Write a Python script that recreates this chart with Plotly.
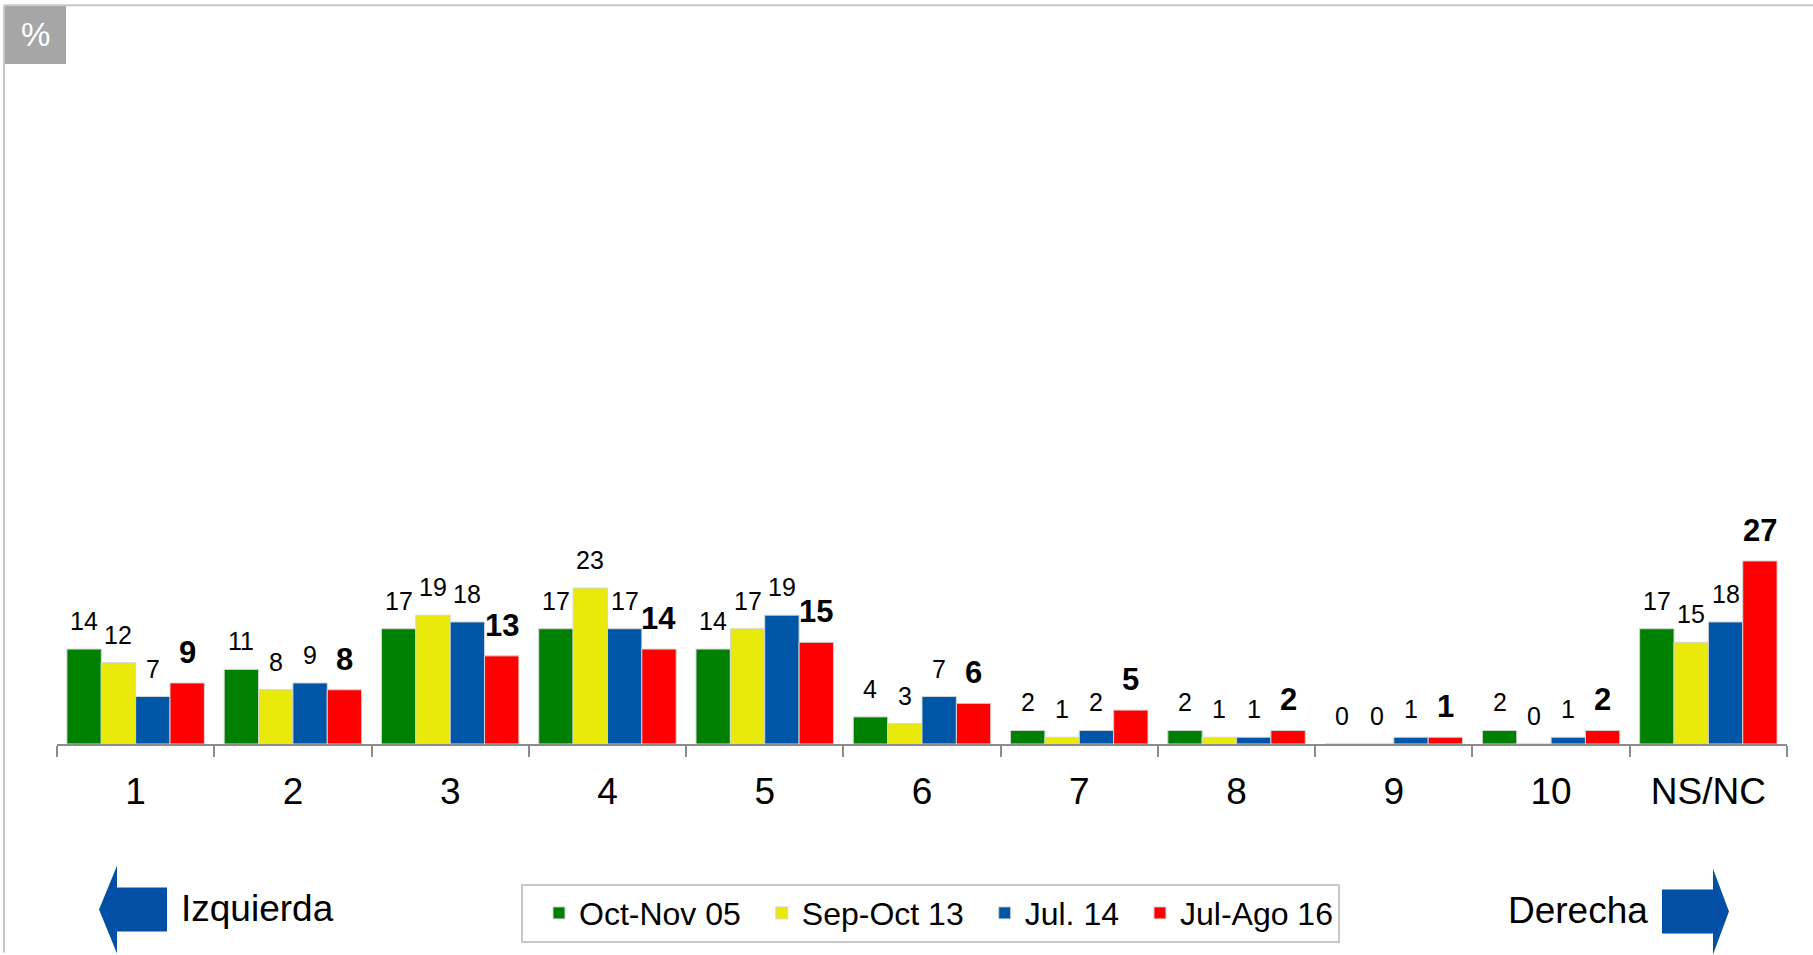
import plotly.graph_objects as go

categories = ["1", "2", "3", "4", "5", "6", "7", "8", "9", "10", "NS/NC"]
series_names = ["Oct-Nov 05", "Sep-Oct 13", "Jul. 14", "Jul-Ago 16"]
oct_nov_05 = [14, 11, 17, 17, 14, 4, 2, 2, 0, 2, 17]
sep_oct_13 = [12, 8, 19, 23, 17, 3, 1, 1, 0, 0, 15]
jul_14 = [7, 9, 18, 17, 19, 7, 2, 1, 1, 1, 18]
jul_ago_16 = [9, 8, 13, 14, 15, 6, 5, 2, 1, 2, 27]
series_values = [oct_nov_05, sep_oct_13, jul_14, jul_ago_16]
colors = ["#008000", "#E9E90A", "#0056A6", "#FF0000"]

FONT = "Liberation Sans, Arial, sans-serif"
W, H = 1813, 955
L, R, T, B = 57, 1787, 66, 746
BARGAP = 0.126


def px_x(p):
    return (p - L) / (R - L)


def px_y(p):
    return (B - p) / (B - T)


fig = go.Figure()
for name, vals, col in zip(series_names, series_values, colors):
    fig.add_trace(go.Bar(
        x=categories, y=vals, name=name,
        marker=dict(color=col, line=dict(color="#d4d4d4", width=1)),
        hoverinfo="x+y+name",
    ))

# data labels (x given as category index)
cat_px = (R - L) / len(categories)
bar_px = cat_px * (1 - BARGAP) / len(series_names)
annotations = []
for j, vals in enumerate(series_values):
    last = j == len(series_values) - 1
    for i, v in enumerate(vals):
        annotations.append(dict(
            x=i, y=v, xref="x", yref="y", text=str(v), showarrow=False,
            xanchor="center", yanchor="bottom",
            xshift=(j - 1.5) * bar_px, yshift=11 if last else 12,
            font=dict(family=FONT, size=31 if last else 25, color="black",
                      weight="bold" if last else "normal"),
        ))

# side labels
annotations.append(dict(x=px_x(179), y=px_y(911), xref="paper", yref="paper",
                        text="Izquierda", showarrow=False, xanchor="left", yanchor="middle",
                        font=dict(family=FONT, size=37, color="black")))
annotations.append(dict(x=px_x(1650), y=px_y(913), xref="paper", yref="paper",
                        text="Derecha", showarrow=False, xanchor="right", yanchor="middle",
                        font=dict(family=FONT, size=37, color="black")))
annotations.append(dict(x=px_x(35.5), y=px_y(34.5), xref="paper", yref="paper",
                        text="%", showarrow=False, xanchor="center", yanchor="middle",
                        font=dict(family=FONT, size=33, color="white")))


def path(points):
    return "M " + " L ".join(f"{px_x(a):.5f},{px_y(b):.5f}" for a, b in points) + " Z"


arrow_col = "#0250A5"
left_arrow = [(99, 912), (117, 868), (117, 890), (167, 890), (167, 934), (117, 934), (117, 956)]
right_arrow = [(1662, 892), (1713, 892), (1713, 871), (1729, 914), (1713, 957), (1713, 936), (1662, 936)]

shapes = [
    # frame lines
    dict(type="line", xref="paper", yref="paper", x0=px_x(4), x1=px_x(W), y0=px_y(5), y1=px_y(5),
         line=dict(color="#c8c8c8", width=2)),
    dict(type="line", xref="paper", yref="paper", x0=px_x(4), x1=px_x(4), y0=px_y(5), y1=px_y(H),
         line=dict(color="#c8c8c8", width=2)),
    # % box
    dict(type="rect", xref="paper", yref="paper", x0=px_x(5), x1=px_x(66), y0=px_y(5), y1=px_y(64),
         fillcolor="#a6a6a6", line=dict(width=0), layer="below"),
    dict(type="path", xref="paper", yref="paper", path=path(left_arrow),
         fillcolor=arrow_col, line=dict(width=0)),
    dict(type="path", xref="paper", yref="paper", path=path(right_arrow),
         fillcolor=arrow_col, line=dict(width=0)),
]

fig.update_layout(
    width=W, height=H,
    margin=dict(l=L, r=W - R, t=T, b=H - B),
    paper_bgcolor="white", plot_bgcolor="white",
    barmode="group", bargap=BARGAP, bargroupgap=0,
    font=dict(family=FONT, color="black"),
    showlegend=True,
    legend=dict(
        orientation="h", x=px_x(521), y=px_y(886), xanchor="left", yanchor="top",
        font=dict(family=FONT, size=32, color="black"),
        bordercolor="#c8c8c8", borderwidth=2, bgcolor="white",
        traceorder="normal", indentation=16,
    ),
    xaxis=dict(
        type="category", showline=True, linecolor="#8c8c8c", linewidth=2,
        ticks="outside", ticklen=11, tickwidth=2, tickcolor="#8c8c8c",
        tickson="boundaries", showgrid=False, zeroline=False,
        tickfont=dict(family=FONT, size=37, color="black"),
        ticklabelstandoff=14,
    ),
    yaxis=dict(range=[0, 100], visible=False, showgrid=False, zeroline=False),
    annotations=annotations,
    shapes=shapes,
)

fig.write_html("out.html", config={"displayModeBar": False},
               post_script="document.body.style.margin='0';")
